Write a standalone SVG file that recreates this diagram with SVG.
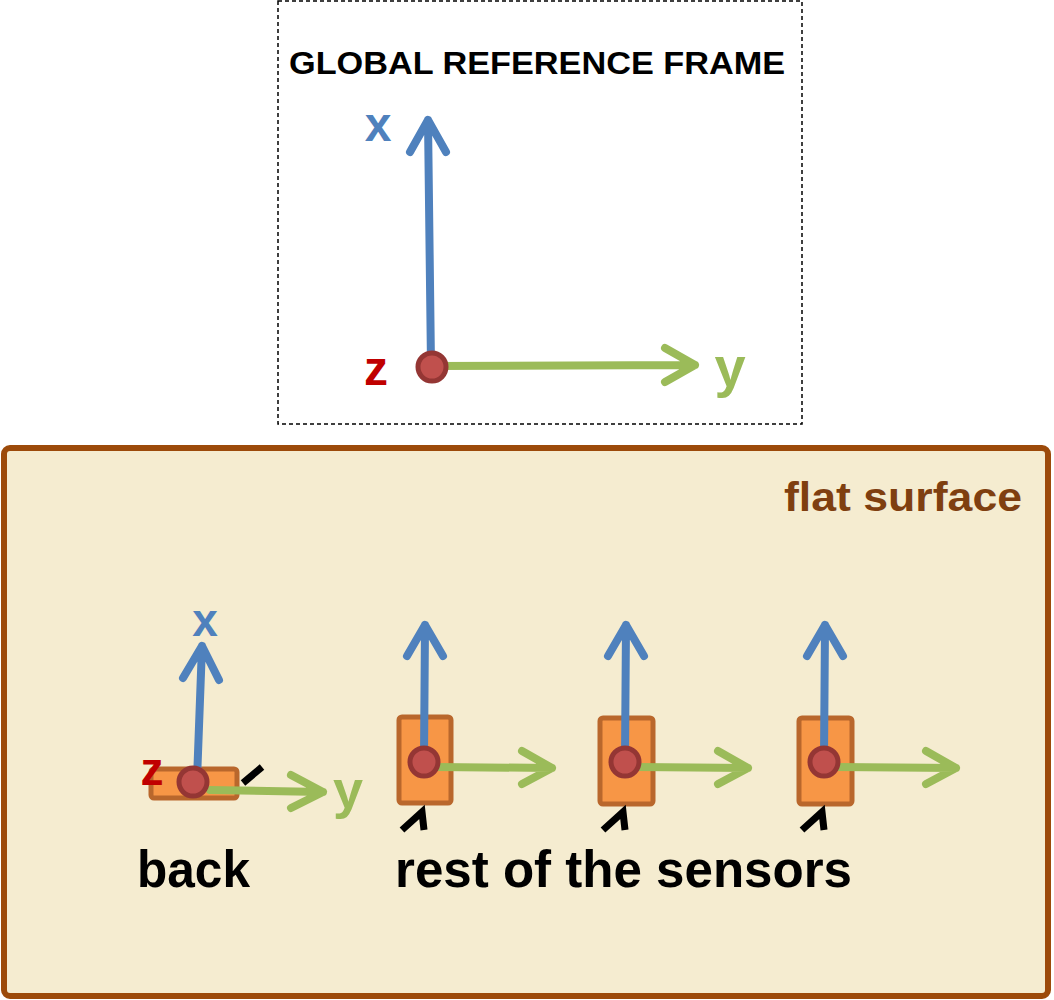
<svg xmlns="http://www.w3.org/2000/svg" width="1054" height="1000" viewBox="0 0 1054 1000">
<style>
.xa{stroke:#4f81bd;stroke-width:8;fill:none;stroke-linecap:round;stroke-linejoin:round}
.ya{stroke:#9bbb59;stroke-width:8;fill:none;stroke-linecap:round;stroke-linejoin:round}
.org{fill:#c0504d;stroke:#943634;stroke-width:5}
.sen{fill:#f79646;stroke:#b9672c;stroke-width:5}
.tick{stroke:#000;stroke-width:7;fill:none;stroke-linejoin:miter}
.lbl{font-family:"Liberation Sans",Arial,sans-serif}
</style>
<rect width="1054" height="1000" fill="#fff"/>
<g id="global-frame">
<rect x="278" y="1" width="524" height="423" fill="none" stroke="#000" stroke-width="1.5" stroke-dasharray="4,3"/>
<text class="lbl" x="537" y="74" text-anchor="middle" font-size="32" font-weight="bold" textLength="496" lengthAdjust="spacingAndGlyphs">GLOBAL REFERENCE FRAME</text>
<path class="xa" d="M431,365 L428,120 M410,152 L428,120 L446,152"/>
<path class="ya" d="M436,366 L695,365 M665,348 L695,365 L665,382"/>
<circle class="org" cx="432" cy="367" r="14"/>
<text class="lbl" x="378" y="141" text-anchor="middle" font-size="48" font-weight="bold" fill="#4f81bd">x</text>
<text class="lbl" x="376" y="385" text-anchor="middle" font-size="48" font-weight="bold" fill="#c00000">z</text>
<text class="lbl" x="730" y="386" text-anchor="middle" font-size="56" fill="#9bbb59" font-weight="bold">y</text>
</g>
<g id="flat-surface">
<rect x="4" y="448" width="1044" height="548" rx="6" fill="#f5ecd0" stroke="#9c4a0a" stroke-width="6"/>
<text class="lbl" x="1022" y="511" text-anchor="end" font-size="40" fill="#7f3f10" font-weight="bold" textLength="238" lengthAdjust="spacingAndGlyphs">flat surface</text>
</g>
<g id="back-sensor">
<rect class="sen" x="151" y="769" width="86" height="29" rx="3"/>
<path class="xa" d="M197,780 L202,646 M183,678 L202,646 L219,680"/>
<path class="ya" d="M210,790 L323,792 M291,775 L323,792 L291,808"/>
<path class="tick" d="M243,783 L262,767"/>
<circle class="org" cx="193" cy="782" r="14"/>
<text class="lbl" x="205" y="636" text-anchor="middle" font-size="46" font-weight="bold" fill="#4f81bd">x</text>
<text class="lbl" x="152" y="785" text-anchor="middle" font-size="46" font-weight="bold" fill="#c00000">z</text>
<text class="lbl" x="348" y="808" text-anchor="middle" font-size="54" fill="#9bbb59" font-weight="bold">y</text>
<text class="lbl" x="137" y="887" font-size="52" font-weight="bold" textLength="113" lengthAdjust="spacingAndGlyphs">back</text>
</g>
<g id="sensor-1">
<rect class="sen" x="399" y="717" width="52" height="86" rx="3"/>
<path class="xa" d="M424,758 L425,625 M407,656 L425,625 L443,656"/>
<path class="ya" d="M437,767 L552,768 M522,751 L552,768 L522,784"/>
<circle class="org" cx="424" cy="762" r="14"/>
<path class="tick" d="M402,830 L422,812 L424,830"/>
</g>
<g id="sensor-2">
<rect class="sen" x="600" y="718" width="53" height="86" rx="3"/>
<path class="xa" d="M625,758 L626,625 M608,656 L626,625 L644,656"/>
<path class="ya" d="M638,767 L748,768 M718,751 L748,768 L718,784"/>
<circle class="org" cx="625" cy="762" r="14"/>
<path class="tick" d="M603,830 L623,812 L625,830"/>
</g>
<g id="sensor-3">
<rect class="sen" x="799" y="718" width="53" height="86" rx="3"/>
<path class="xa" d="M824,758 L825,625 M807,656 L825,625 L843,656"/>
<path class="ya" d="M837,767 L956,768 M926,751 L956,768 L926,784"/>
<circle class="org" cx="824" cy="762" r="14"/>
<path class="tick" d="M802,830 L822,812 L824,830"/>
</g>
<text class="lbl" x="395" y="887" font-size="52" font-weight="bold" textLength="457" lengthAdjust="spacingAndGlyphs">rest of the sensors</text>
</svg>
